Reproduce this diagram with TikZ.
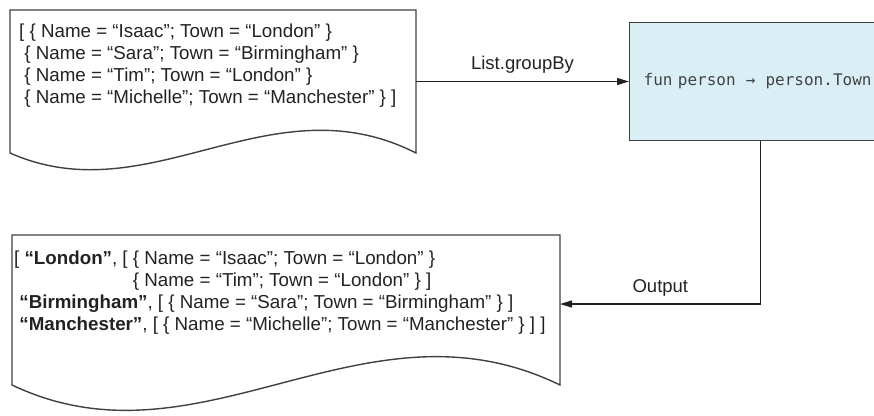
\documentclass[tikz,border=0pt]{standalone}
\usepackage{fontspec}
\setmainfont{Liberation Sans}
\setmonofont{DejaVu Sans Mono}
\usetikzlibrary{arrows.meta,positioning}
\definecolor{ink}{HTML}{222222}
\definecolor{edge}{HTML}{404040}
\definecolor{fnblue}{HTML}{D9EEF5}
\tikzset{
  x=1pt,y=1pt,
  >={Triangle[length=12pt,width=7pt]},
  flow/.style={->,draw=ink,line width=1.2pt},
  docbox/.style={inner sep=0pt,outer sep=0pt},
  docline/.style={draw=edge,line width=1.4pt},
  doctext/.style={inner sep=0pt,align=left,anchor=north west,
                  font=\fontsize{18.75}{22}\selectfont,text=ink},
  fnbox/.style={draw=edge,line width=1.4pt,fill=fnblue,inner xsep=14pt,inner ysep=0pt,
                minimum width=262pt,minimum height=118pt,text width=234pt,align=left,
                font=\ttfamily\fontsize{16}{19}\selectfont,text=ink!85},
  edgetext/.style={above=4pt,font=\fontsize{18.5}{22}\selectfont,text=ink}
}
\begin{document}
\begin{tikzpicture}
  \useasboundingbox (0,0) rectangle (874,-415);
  \node[docbox,minimum width=406pt,minimum height=143pt,anchor=north west] (src) at (10,-10) {};
  \node[fnbox,right=213pt of src] (fn) {fun person \makebox[1.2em]{→} person.Town};
  \node[docbox,minimum width=548pt,minimum height=150pt,below right=82pt and 2pt of src.south west] (res) {};
  % document outlines with wavy bottom
  \draw[docline] (src.south west) |- (src.north east) -- (src.south east)
    .. controls +(-146,74) and +(140,-62) .. cycle;
  \draw[docline] (res.south west) |- (res.north east) -- (res.south east)
    .. controls +(-197,96) and +(189,-90) .. cycle;
  \node[doctext] (srctext) at ([shift={(9,-14)}]src.north west)
    {[ \{ Name = “Isaac”; Town = “London” \}\\
     \ \{ Name = “Sara”; Town = “Birmingham” \}\\
     \ \{ Name = “Tim”; Town = “London” \}\\
     \ \{ Name = “Michelle”; Town = “Manchester” \} ]};
  \node[doctext] (restext) at ([shift={(2,-16)}]res.north west)
    {[ \textbf{“London”}, [ \{ Name = “Isaac”; Town = “London” \}\\
     \phantom{[ \textbf{“London”}, [ }\{ Name = “Tim”; Town = “London” \} ]\\
     \ \textbf{“Birmingham”}, [ \{ Name = “Sara”; Town = “Birmingham” \} ]\\
     \ \textbf{“Manchester”}, [ \{ Name = “Michelle”; Town = “Manchester” \} ] ]};
  \draw[flow] (src.east) -- node[edgetext]{List.groupBy} (fn.west);
  \draw[flow] (fn.south) |- node[edgetext,pos=0.75]{Output} ([yshift=6pt]res.east);
\end{tikzpicture}
\end{document}
